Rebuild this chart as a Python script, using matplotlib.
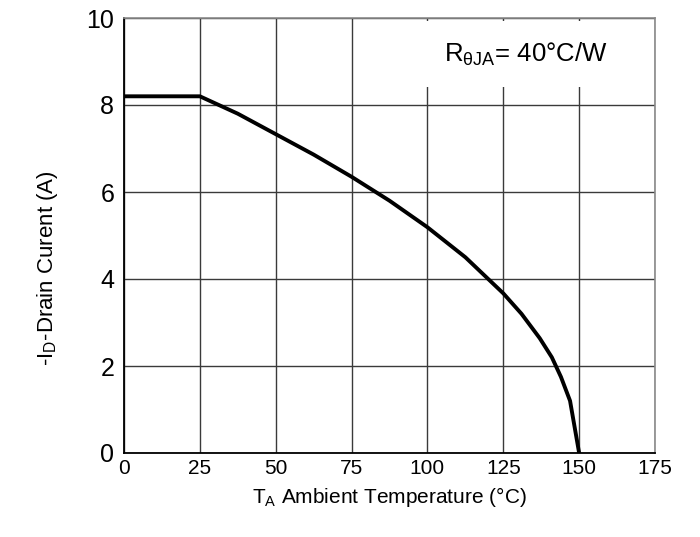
import matplotlib
matplotlib.use("Agg")
import matplotlib.pyplot as plt

# ---- data ----
temperature = [0, 25, 37.5, 50, 62.5, 75, 87.5, 100, 112.5, 125, 131, 137, 141, 144, 147, 150]
drain_current = [8.2, 8.2, 7.8, 7.33, 6.86, 6.35, 5.8, 5.19, 4.5, 3.67, 3.2, 2.64, 2.2, 1.75, 1.2, 0.0]
x_ticks = [0, 25, 50, 75, 100, 125, 150, 175]
y_ticks = [0, 2, 4, 6, 8, 10]
annotation = r"R$_{\mathrm{θJA}}$= 40°C/W"
x_label = r"T$_{\mathrm{A}}$ Ambient Temperature (°C)"
y_label = r"-I$_{\mathrm{D}}$-Drain Curent (A)"

plt.rcParams['font.family'] = ['Liberation Sans', 'DejaVu Sans']
plt.rcParams['mathtext.fontset'] = 'custom'
plt.rcParams['mathtext.rm'] = 'Liberation Sans'
plt.rcParams['mathtext.it'] = 'Liberation Sans:italic'
plt.rcParams['mathtext.bf'] = 'Liberation Sans:bold'

fig = plt.figure(figsize=(7, 5.37), dpi=100)
ax = fig.add_axes([124/700, 1-453/537, 531/700, 435/537])

ax.plot(temperature, drain_current, color='black', lw=2.8, solid_joinstyle='round', zorder=3)

ax.set_xlim(0, 175)
ax.set_ylim(0, 10)
ax.set_xticks(x_ticks)
ax.set_yticks(y_ticks)
ax.grid(True, color='#3a3a3a', lw=1.0)
ax.set_axisbelow(True)
ax.tick_params(axis='both', length=0, colors='black')
ax.tick_params(axis='y', pad=7, labelsize=18)
ax.tick_params(axis='x', pad=4, labelsize=15)

for side in ['top', 'right']:
    ax.spines[side].set_color('#8a8a8a')
    ax.spines[side].set_linewidth(1.2)
for side in ['left', 'bottom']:
    ax.spines[side].set_color('black')
    ax.spines[side].set_linewidth(1.3)

ax.text(105.5, 9.0, annotation, fontsize=18.5, color='black', va='baseline', zorder=2,
        bbox=dict(boxstyle='square,pad=0.75', facecolor='white', edgecolor='none'))

fig.text(389/700, 1-497/537, x_label, fontsize=15, ha='center', va='center')
fig.text(48/700, 1-170/537, y_label, fontsize=16, rotation=90, ha='center', va='top')

fig.savefig("out.png", dpi=100)
